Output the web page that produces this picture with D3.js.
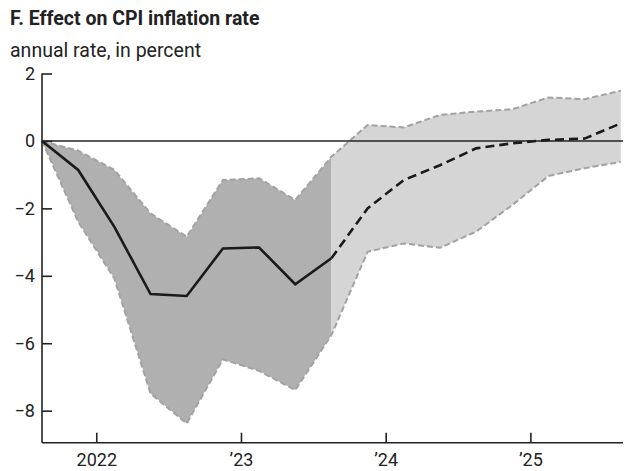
<!DOCTYPE html>
<html>
<head>
<meta charset="utf-8">
<script src="https://cdn.jsdelivr.net/npm/d3@7"></script>
<style>
  body { margin: 0; background: #fff; }
  svg text { font-family: Roboto, "Noto Sans", sans-serif; fill: #222; }
</style>
</head>
<body>
<div class="chart"></div>
<script>
// quarterly points, mid-quarter
var quarters = ["2021Q3","2021Q4","2022Q1","2022Q2","2022Q3","2022Q4","2023Q1","2023Q2","2023Q3",
                "2023Q4","2024Q1","2024Q2","2024Q3","2024Q4","2025Q1","2025Q2","2025Q3"];
var effect = [0, -0.86, -2.55, -4.54, -4.6, -3.19, -3.16, -4.25, -3.48,
              -2.0, -1.16, -0.72, -0.22, -0.07, 0.03, 0.07, 0.52];
var upper = [0, -0.29, -0.86, -2.15, -2.84, -1.16, -1.11, -1.75, -0.47,
             0.47, 0.4, 0.77, 0.87, 0.94, 1.29, 1.24, 1.49];
var lower = [0, -2.4, -4.08, -7.49, -8.38, -6.48, -6.82, -7.39, -5.76,
             -3.29, -3.04, -3.17, -2.69, -1.9, -1.04, -0.81, -0.62];
var lastActual = "2023Q3";   // solid line / dark band up to here, projection after
var yTicks = [2, 0, -2, -4, -6, -8];
var xTicks = [2022, 2023, 2024, 2025];
var xTickLabels = ["2022", "\u201923", "\u201924", "\u201925"];

var width = 624, height = 471;

function qToYear(q) {
    return +q.slice(0, 4) + (+q.slice(5) - 1) * 0.25 + 0.125;
}

var data = quarters.map(function(q, i) {
    return {q: q, t: qToYear(q), v: effect[i], hi: upper[i], lo: lower[i]};
});
var splitIdx = quarters.indexOf(lastActual);

var svg = d3.select(".chart").append("svg")
    .attr("width", width).attr("height", height);

var x = d3.scaleLinear().domain([2021.625, 2025.64]).range([42, 623]);
var y = d3.scaleLinear().domain([-8.95, 2]).range([442.7, 73.5]);

// titles
svg.append("text").attr("x", 10).attr("y", 25)
    .attr("font-size", "19.5px").attr("font-weight", "bold")
    .text("F. Effect on CPI inflation rate");
svg.append("text").attr("x", 10).attr("y", 57)
    .attr("font-size", "19.5px")
    .text("annual rate, in percent");

// band
var area = d3.area()
    .x(function(d) { return x(d.t); })
    .y0(function(d) { return y(d.lo); })
    .y1(function(d) { return y(d.hi); });

svg.append("path").datum(data.slice(0, splitIdx + 1))
    .attr("d", area).attr("fill", "#b0b0b0");
svg.append("path").datum(data.slice(splitIdx))
    .attr("d", area).attr("fill", "#d5d5d5");

var edge = function(key) {
    return d3.line().x(function(d) { return x(d.t); }).y(function(d) { return y(d[key]); });
};
["hi", "lo"].forEach(function(k) {
    svg.append("path").datum(data)
        .attr("d", edge(k))
        .attr("fill", "none")
        .attr("stroke", "#a2a2a2")
        .attr("stroke-width", 2)
        .attr("stroke-dasharray", "6,3");
});

// zero line
svg.append("line")
    .attr("x1", x.range()[0]).attr("x2", x.range()[1])
    .attr("y1", y(0)).attr("y2", y(0))
    .attr("stroke", "#222").attr("stroke-width", 1.5);

// effect line: solid then dashed
var line = edge("v");
svg.append("path").datum(data.slice(0, splitIdx + 1))
    .attr("d", line).attr("fill", "none")
    .attr("stroke", "#1a1a1a").attr("stroke-width", 2.6)
    .attr("stroke-linejoin", "miter");
svg.append("path").datum(data.slice(splitIdx))
    .attr("d", line).attr("fill", "none")
    .attr("stroke", "#1a1a1a").attr("stroke-width", 2.6)
    .attr("stroke-dasharray", "9,5");

// axes
var yAxis = svg.append("g")
    .attr("transform", "translate(" + x.range()[0] + ",0)")
    .call(d3.axisRight(y).tickValues(yTicks).tickSize(10)
        .tickFormat(function(d) { return d < 0 ? "\u2212" + Math.abs(d) : d; }));
yAxis.select(".domain").attr("d", "M0," + y.range()[1] + "V" + y.range()[0])
    .attr("stroke", "#222").attr("stroke-width", 1.6);
yAxis.selectAll(".tick line").attr("stroke", "#222").attr("stroke-width", 1.6);
yAxis.selectAll(".tick text")
    .attr("x", -7).attr("text-anchor", "end")
    .attr("font-size", "18px").attr("font-family", "Roboto, sans-serif").attr("fill", "#222");

var xAxis = svg.append("g")
    .attr("transform", "translate(0," + y.range()[0] + ")")
    .call(d3.axisTop(x).tickValues(xTicks).tickSize(10)
        .tickFormat(function(d, i) { return xTickLabels[i]; }));
xAxis.select(".domain").attr("d", "M" + x.range()[0] + ",0H" + x.range()[1])
    .attr("stroke", "#222").attr("stroke-width", 1.6);
xAxis.selectAll(".tick line").attr("stroke", "#222").attr("stroke-width", 1.6);
xAxis.selectAll(".tick text")
    .attr("y", 23).attr("dy", 0)
    .attr("font-size", "18px").attr("font-family", "Roboto, sans-serif").attr("fill", "#222");
</script>
</body>
</html>
